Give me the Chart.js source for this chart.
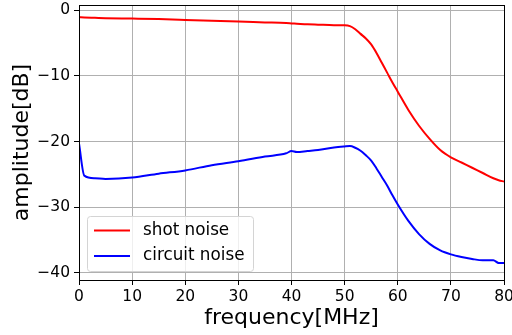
<!DOCTYPE html>
<html>
<head>
<meta charset="utf-8">
<script src="https://cdn.jsdelivr.net/npm/chart.js@4.4.0/dist/chart.umd.min.js"></script>
<style>
  html, body { margin: 0; padding: 0; background: #fff; }
  #wrap { width: 512px; height: 335px; }
</style>
</head>
<body>
<div id="wrap"><canvas id="noiseChart" width="512" height="335"></canvas></div>
<script>
// frequency in MHz
var freq = [0, 1, 3, 5, 10, 15, 20, 25, 30, 35, 39, 40, 41, 43, 45, 48, 50, 51, 52, 53, 54, 55, 56, 57, 58, 59, 60, 62, 64, 66, 68, 70, 72, 74, 76, 78, 79, 80];
// amplitude in dB
var shotNoise = [-1.07, -1.1, -1.15, -1.2, -1.27, -1.35, -1.47, -1.6, -1.73, -1.85, -1.95, -2.0, -2.05, -2.15, -2.2, -2.27, -2.29, -2.42, -2.9, -3.6, -4.3, -5.2, -6.5, -8.0, -9.5, -11.0, -12.4, -15.2, -17.6, -19.6, -21.3, -22.4, -23.2, -24.0, -24.8, -25.6, -25.9, -26.1];
var circuitNoise = [-20.3, -25.2, -25.6, -25.7, -25.5, -24.9, -24.4, -23.6, -23.0, -22.3, -21.8, -21.45, -21.6, -21.45, -21.3, -20.9, -20.75, -20.7, -20.95, -21.4, -22.1, -22.9, -24.1, -25.4, -26.7, -28.2, -29.6, -32.1, -34.1, -35.6, -36.6, -37.2, -37.6, -37.9, -38.1, -38.1, -38.5, -38.5];
var xTicks = [0, 10, 20, 30, 40, 50, 60, 70, 80];
var yTicks = [-40, -30, -20, -10, 0];
var seriesNames = ['shot noise', 'circuit noise'];

function toPoints(values) {
    return freq.map(function (f, i) { return { x: f, y: values[i] }; });
}

var FONT = 'DejaVu Sans';

// box around the plot + legend inside the plot area
var framePlugin = {
    id: 'frame',
    afterDraw: function (chart) {
        var ctx = chart.ctx, a = chart.chartArea;
        ctx.save();
        ctx.strokeStyle = '#000';
        ctx.lineWidth = 1;
        ctx.strokeRect(Math.round(a.left) + 0.5, Math.round(a.top) + 0.5,
            Math.round(a.right - a.left), Math.round(a.bottom - a.top));

        // legend
        var bx = a.left + 8, bw = 166, bh = 55, by = a.bottom - 9 - bh;
        ctx.beginPath();
        ctx.roundRect(bx + 0.5, by + 0.5, bw, bh, 3);
        ctx.fillStyle = 'rgba(255,255,255,0.8)';
        ctx.fill();
        ctx.strokeStyle = '#d4d4d4';
        ctx.stroke();
        ctx.font = '16.8px "' + FONT + '"';
        ctx.textBaseline = 'middle';
        chart.data.datasets.forEach(function (ds, i) {
            var cy = by + 14.5 + i * 25.5;
            ctx.beginPath();
            ctx.strokeStyle = ds.borderColor;
            ctx.lineWidth = 2;
            ctx.moveTo(bx + 7, cy);
            ctx.lineTo(bx + 43, cy);
            ctx.stroke();
            ctx.fillStyle = '#000';
            ctx.fillText(ds.label, bx + 56, cy);
        });
        ctx.restore();
    }
};

var ctx = document.getElementById('noiseChart').getContext('2d');
var noiseChart = new Chart(ctx, {
    type: 'line',
    data: {
        datasets: [{
            label: seriesNames[0],
            data: toPoints(shotNoise),
            borderColor: '#ff0000',
            borderWidth: 2,
            pointRadius: 0,
            cubicInterpolationMode: 'monotone'
        }, {
            label: seriesNames[1],
            data: toPoints(circuitNoise),
            borderColor: '#0000ff',
            borderWidth: 2,
            pointRadius: 0,
            cubicInterpolationMode: 'monotone'
        }]
    },
    options: {
        responsive: false,
        animation: false,
        devicePixelRatio: 1,
        layout: { padding: { left: 0, right: 8, top: 5, bottom: 0 } },
        plugins: {
            legend: { display: false },
            tooltip: { enabled: false }
        },
        scales: {
            x: {
                type: 'linear',
                min: 0,
                max: 80,
                afterBuildTicks: function (scale) {
                    scale.ticks = xTicks.map(function (v) { return { value: v }; });
                },
                afterFit: function (scale) {
                    scale.height = 55;
                    scale.paddingLeft = 0;
                    scale.paddingRight = 0;
                },
                grid: { color: '#b0b0b0', lineWidth: 1, tickLength: 5, tickColor: '#000' },
                border: { color: '#000', width: 1 },
                ticks: {
                    color: '#000',
                    padding: 3,
                    maxRotation: 0,
                    font: { family: FONT, size: 15.5 }
                },
                title: {
                    display: true,
                    text: 'frequency[MHz]',
                    color: '#000',
                    padding: { top: 0, bottom: 4 },
                    font: { family: FONT, size: 22 }
                }
            },
            y: {
                type: 'linear',
                min: -41.1,
                max: 0.8,
                afterBuildTicks: function (scale) {
                    scale.ticks = yTicks.map(function (v) { return { value: v }; });
                },
                afterFit: function (scale) {
                    scale.width = 79;
                    scale.paddingTop = 0;
                    scale.paddingBottom = 0;
                },
                grid: { color: '#b0b0b0', lineWidth: 1, tickLength: 5, tickColor: '#000' },
                border: { color: '#000', width: 1 },
                ticks: {
                    color: '#000',
                    padding: 4,
                    font: { family: FONT, size: 15.5 },
                    callback: function (v) { return String(v).replace('-', '\u2212'); }
                },
                title: {
                    display: true,
                    text: 'amplitude[dB]',
                    color: '#000',
                    padding: { top: 9, bottom: 0 },
                    font: { family: FONT, size: 22 }
                }
            }
        }
    },
    plugins: [framePlugin]
});
</script>
</body>
</html>
